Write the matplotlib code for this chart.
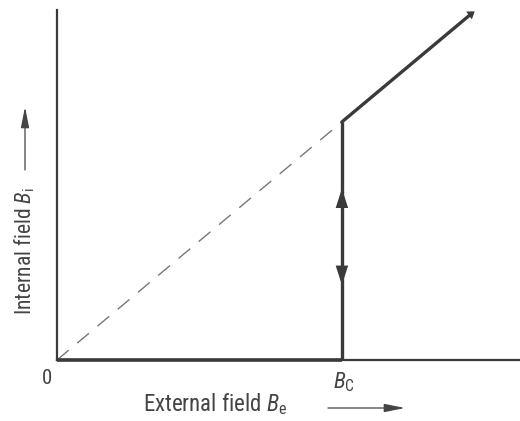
import matplotlib
matplotlib.use("Agg")
import matplotlib.pyplot as plt
from matplotlib.patches import FancyArrowPatch

# Field values in units of the critical field B_c
b_crit = 1.0
normal_be = [1.0, 1.456]          # external field on the normal-state branch
normal_bi = [1.0, 1.456]          # internal field equals external field there
meissner_be = [0.0, 1.0]          # superconducting branch: field expelled
meissner_bi = [0.0, 0.0]
ideal_be = [0.0, 1.0]             # dashed continuation B_i = B_e
ideal_bi = [0.0, 1.0]
transition_bi = [0.0, 1.0]        # jump at B_c
arrow_up_tip = 0.72
arrow_down_tip = 0.315

plt.rcParams["font.family"] = ["Roboto Condensed", "DejaVu Sans"]
plt.rcParams["mathtext.fontset"] = "custom"
plt.rcParams["mathtext.rm"] = "Roboto Condensed"
plt.rcParams["mathtext.it"] = "Roboto Condensed:italic"

ink = "#3a3a3a"
W, H = 520, 421
fig = plt.figure(figsize=(W / 100, H / 100), dpi=100)
ax = fig.add_axes([57 / W, (H - 360) / H, 463 / W, 350 / H])
ax.set_xlim(0, 1.625)
ax.set_ylim(0, 1.47)
for side in ("top", "right"):
    ax.spines[side].set_visible(False)
for side in ("left", "bottom"):
    ax.spines[side].set_color(ink)
    ax.spines[side].set_linewidth(1.6)
ax.set_xticks([])
ax.set_yticks([])

ax.plot(ideal_be, ideal_bi, color="#777777", lw=1.0, dashes=(11, 8), clip_on=False)
ax.plot(meissner_be, meissner_bi, color=ink, lw=2.6, clip_on=False, solid_capstyle="butt")
ax.plot([b_crit, b_crit], transition_bi, color=ink, lw=2.4, clip_on=False, solid_capstyle="butt")
ax.plot(normal_be, normal_bi, color=ink, lw=2.4, clip_on=False, solid_capstyle="round")

head = dict(arrowstyle="-|>,head_length=1.4,head_width=0.45", color=ink, lw=0, shrinkA=0, shrinkB=0)
ax.annotate("", xy=(b_crit, arrow_up_tip), xytext=(b_crit, arrow_up_tip - 0.1), arrowprops=head)
ax.annotate("", xy=(b_crit, arrow_down_tip), xytext=(b_crit, arrow_down_tip + 0.1), arrowprops=head)
ax.annotate("", xy=(normal_be[1] + 0.01, normal_bi[1] + 0.008),
            xytext=(normal_be[1] - 0.03, normal_bi[1] - 0.026),
            arrowprops=dict(arrowstyle="-|>,head_length=0.5,head_width=0.35", color=ink, lw=0,
                            shrinkA=0, shrinkB=0))

txt = "#444444"
fig.text(47 / W, 1 - 378 / H, "0", fontsize=15, color=txt, ha="center", va="center")
fig.text(344 / W, 1 - 382 / H, r"$B_{\mathrm{C}}$", fontsize=16, color=txt, ha="center", va="center")
fig.text(143 / W, 1 - 411 / H, r"External field $B_{\mathrm{e}}$", fontsize=16.5, color=txt,
         ha="left", va="baseline")
fig.text(25 / W, 1 - 251 / H, r"Internal field $B_{\mathrm{i}}$", fontsize=15.5, color=txt,
         ha="center", va="center", rotation=90)

lab = dict(arrowstyle="-|>,head_length=0.9,head_width=0.18", color=txt, lw=0.9, shrinkA=0, shrinkB=0)
fig.add_artist(FancyArrowPatch((328 / W, 1 - 408 / H), (405 / W, 1 - 408 / H),
                               transform=fig.transFigure, mutation_scale=14, **lab))
fig.add_artist(FancyArrowPatch((25 / W, 1 - 170 / H), (25 / W, 1 - 107 / H),
                               transform=fig.transFigure, mutation_scale=14, **lab))

fig.savefig("out.png", dpi=100, facecolor="white")
